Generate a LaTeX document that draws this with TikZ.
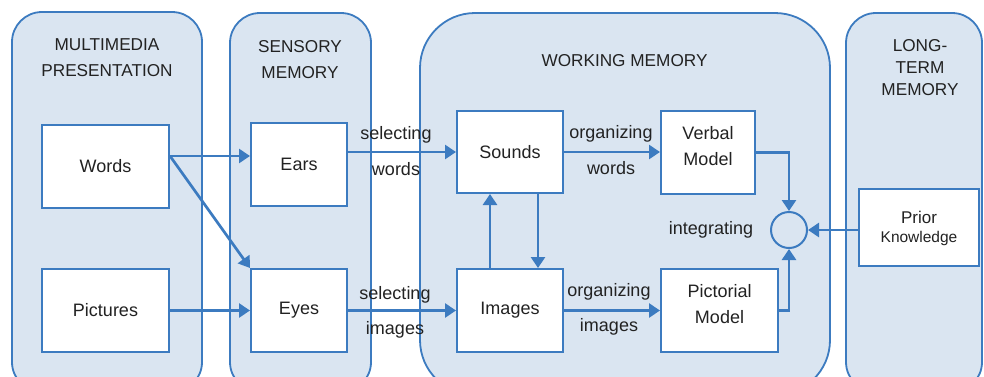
\documentclass[tikz,border=0pt]{standalone}
\usepackage{fontspec}
\setmainfont{Liberation Sans}
\usetikzlibrary{arrows.meta,calc}
\definecolor{panelfill}{HTML}{DAE5F1}
\definecolor{edge}{HTML}{3C7BC0}
\definecolor{ink}{HTML}{222222}
\begin{document}
\begin{tikzpicture}[x=1pt,y=-1pt,
  panel/.style={draw=edge,fill=panelfill,line width=1.8pt},
  box/.style={draw=edge,fill=white,line width=2pt,inner sep=0pt,align=center,text=ink,
    font=\fontsize{18}{26}\selectfont},
  lbl/.style={text=ink,font=\fontsize{18}{20}\selectfont,inner sep=0pt},
  ttl/.style={text=ink,font=\fontsize{17.2}{26}\selectfont,align=center,inner sep=0pt},
  btxt/.style={text=ink,font=\fontsize{18}{26}\selectfont,align=center,inner sep=0pt},
  arr/.style={draw=edge,line width=2.7pt,-{Triangle[length=11pt,width=14pt]}}]
\clip (0,0) rectangle (984,376);
\fill[white] (0,0) rectangle (984,376);

% stage panels
\draw[panel,rounded corners=30pt] (12,12) rectangle (202,392);
\draw[panel,rounded corners=30pt] (230,13) rectangle (371,392);
\draw[panel,rounded corners=55pt] (420,13) rectangle (830,395);
\draw[panel,rounded corners=30pt] (846,13) rectangle (982,392);

% panel titles
\node[ttl] (tmm) at (107,58) {MULTIMEDIA\\PRESENTATION};
\node[ttl] (tsm) at (300,60) {SENSORY\\MEMORY};
\node[ttl] (twm) at (624.5,61) {WORKING MEMORY};
\node[ttl,font=\fontsize{17.2}{22}\selectfont] (tlm) at (920,68) {LONG-\\TERM\\MEMORY};

% boxes
\node[box,minimum width=127pt,minimum height=83pt] (words) at (105.5,166.5) {Words};
\node[box,minimum width=127pt,minimum height=83pt] (pictures) at (105.5,310.5) {Pictures};
\node[box,minimum width=96pt,minimum height=83pt] (ears) at (299,164.5) {Ears};
\node[box,minimum width=96pt,minimum height=83pt] (eyes) at (299,310.5) {Eyes};
\node[box,minimum width=106pt,minimum height=82pt] (sounds) at (510,152) {Sounds};
\node[box,minimum width=106pt,minimum height=83pt] (images) at (510,310.5) {Images};
\node[box,minimum width=94pt,minimum height=83pt] (verbal) at (708,152.5) {};
\node[box,minimum width=117pt,minimum height=83pt] (pictorial) at (719.5,310.5) {};
\node[box,minimum width=120pt,minimum height=77pt] (prior) at (919,227.5) {};
\node[btxt] (verbaltxt) at ([yshift=6pt]verbal.center) {Verbal\\Model};
\node[btxt] (pictorialtxt) at ([yshift=6pt]pictorial.center) {Pictorial\\Model};
\node[btxt,font=\fontsize{17}{19}\selectfont] (priortxt) at ([yshift=-1pt]prior.center)
  {Prior\\{\fontsize{15.5}{19}\selectfont Knowledge}};
\node[draw=edge,line width=2pt,circle,minimum size=36pt,inner sep=0pt] (integ) at (789,230) {};

% connectors
\coordinate (wout) at ([yshift=10.5pt]words.east);
\draw[arr] (wout) -- (wout -| ears.west);
\draw[arr] (wout) -- (eyes.north west);
\draw[arr] (pictures.east) -- (eyes.west);
\draw[arr] (ears.east |- sounds.west) -- (sounds.west);
\draw[arr] (eyes.east) -- (images.west);
\draw[arr] (sounds.east) -- (verbal.west |- sounds.east);
\draw[arr] (images.east) -- (pictorial.west);
\coordinate (upx) at ([xshift=-20pt]images.north);
\coordinate (dnx) at ([xshift=28pt]sounds.south);
\draw[arr] (upx) -- (upx |- sounds.south);
\draw[arr] (dnx) -- (dnx |- images.north);
\draw[arr] (verbal.east) -| (integ.north);
\draw[arr] (pictorial.east) -| (integ.south);
\draw[arr] (prior.west |- integ.east) -- (integ.east);

% process labels
\node[lbl] (sel1) at (396,135) {selecting};
\node[lbl] (sel1b) at (396,169) {words};
\node[lbl] (sel2) at (395,295) {selecting};
\node[lbl] (sel2b) at (395,330) {images};
\node[lbl] (org1) at (611,134) {organizing};
\node[lbl] (org1b) at (611,168) {words};
\node[lbl] (org2) at (609,292) {organizing};
\node[lbl] (org2b) at (609,327) {images};
\node[lbl] (intl) at (711,230) {integrating};
\end{tikzpicture}
\end{document}
